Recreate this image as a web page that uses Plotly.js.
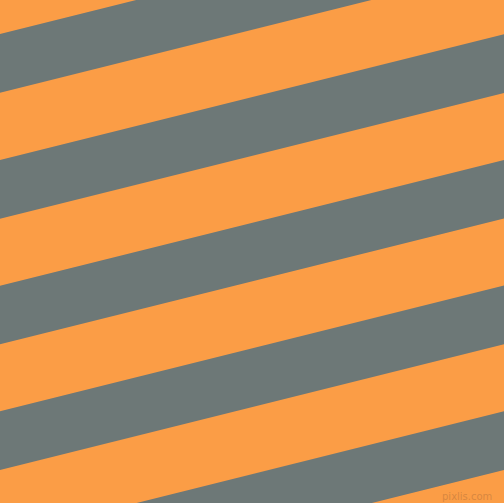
<!DOCTYPE html>
<html>
<head>
<meta charset="utf-8">
<script src="https://cdn.plot.ly/plotly-3.0.1.min.js"></script>
<style>
  html, body { margin: 0; padding: 0; background: #fb9d46; }
  #chart { width: 504px; height: 503px; }
</style>
</head>
<body>
<div id="chart"></div>
<script>
// grey band edges where they meet the left side (px from the top)
var greyTop    = [34, 160, 285.7, 411.3, 537.1];
var greyBottom = [92.7, 218.7, 344.3, 470, 595.8];
// how far each band rises across the full width
var rise = 125.8;

var orange = "#fb9d46";
var grey = "#6d7877";

var W = 504, H = 503;

var traces = [];
for (let i = 0; i < greyTop.length; ++i) {
  traces.push({
    type: "scatter", mode: "lines", fill: "toself",
    x: [0, W, W, 0, 0],
    y: [greyTop[i], greyTop[i] - rise, greyBottom[i] - rise, greyBottom[i], greyTop[i]],
    fillcolor: grey, line: {width: 0, color: grey},
    hoverinfo: "skip", showlegend: false
  });
}

Plotly.newPlot(document.getElementById("chart"), traces,
  {width: W, height: H, margin: {t: 0, r: 0, l: 0, b: 0},
   paper_bgcolor: orange, plot_bgcolor: orange, showlegend: false,
   xaxis: {range: [0, W], visible: false, fixedrange: true},
   yaxis: {range: [H, 0], visible: false, fixedrange: true},
   annotations: [{x: 494, y: 496, xref: "x", yref: "y", xanchor: "right", yanchor: "middle",
     text: "pixlis.com", showarrow: false,
     font: {family: "DejaVu Sans", size: 10, color: "rgba(190,120,60,0.6)"}}]},
  {displayModeBar: false, staticPlot: true}
);
</script>
</body>
</html>
